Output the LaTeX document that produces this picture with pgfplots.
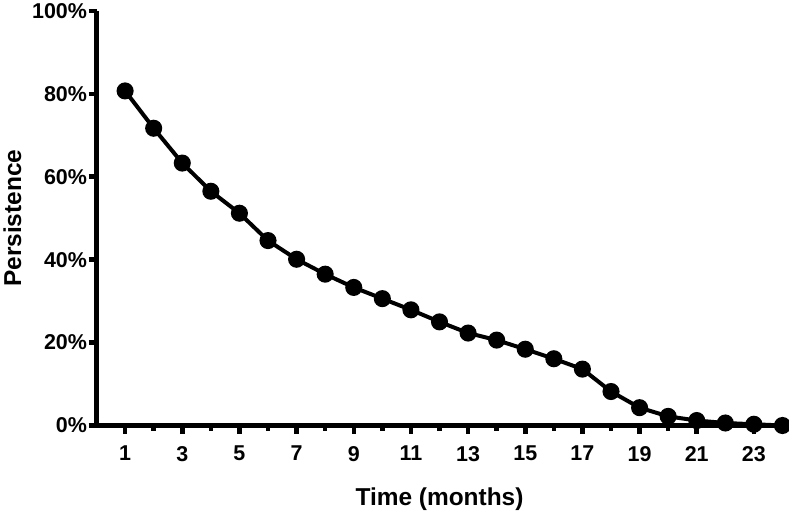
\documentclass[border=0pt]{standalone}
\usepackage{pgfplots}
\pgfplotsset{compat=1.18}
\usepackage{fontspec}
\setmainfont{Liberation Sans}
\begin{document}
\begin{tikzpicture}
\begin{axis}[
 scale only axis, width=685bp, height=414bp,
 xmin=0, xmax=24, ymin=0, ymax=100,
 axis lines=left, axis line style={line width=4.5bp, -},
 xtick={1,3,...,23}, minor xtick={2,4,...,24},
 ytick={0,20,...,100},
 yticklabel={\pgfmathprintnumber{\tick}\%},
 tick style={line width=4.5bp, black},
 major tick length=8bp, minor tick length=5bp,
 tick align=outside,
 ticklabel style={font=\bfseries\fontsize{21.5}{24}\selectfont},
 xticklabel style={yshift=-9bp},
 yticklabel style={xshift=2bp},
 /pgf/number format/assume math mode=true,
 xlabel={Time (months)}, ylabel={Persistence},
 label style={font=\bfseries\fontsize{24.5}{28}\selectfont},
 xlabel style={yshift=-20bp},
 ylabel style={yshift=4bp},
 clip=false,
]
\addplot[black, line width=4bp, mark=*, mark size=6.5bp] coordinates {
(1,80.7) (2,71.7) (3,63.3) (4,56.5) (5,51.2) (6,44.6) (7,40.1) (8,36.5)
(9,33.3) (10,30.6) (11,27.9) (12,25.0) (13,22.3) (14,20.6) (15,18.4)
(16,16.1) (17,13.6) (18,8.2) (19,4.3) (20,2.2) (21,1.2) (22,0.6) (23,0.3) (24,0.0)
};
\end{axis}
\end{tikzpicture}
\end{document}
